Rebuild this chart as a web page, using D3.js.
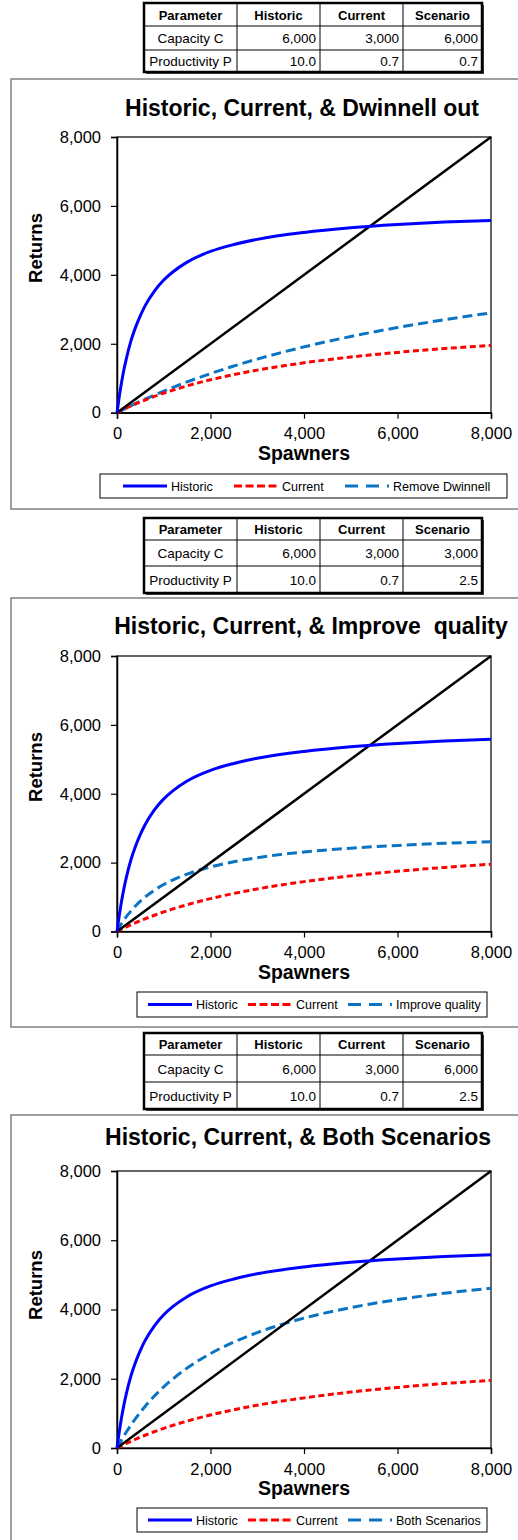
<!DOCTYPE html>
<html><head><meta charset="utf-8">
<script src="https://cdn.jsdelivr.net/npm/d3@7"></script>
<style>
body{margin:0;background:#fff}
svg{display:block}
text{font-family:"Liberation Sans",Arial,sans-serif;fill:#000}
</style>
</head><body>
<svg id="c" width="518" height="1540"></svg>
<script>
// ---------------- data ----------------
const spawners       = [0, 50, 100, 150, 200, 300, 400, 500, 600, 800, 1000, 1200, 1500, 2000, 2500, 3000, 4000, 5000, 6000, 7000, 8000];
const historic       = [0, 480, 900, 1260, 1570, 2090, 2490, 2820, 3100, 3530, 3850, 4090, 4370, 4680, 4880, 5030, 5230, 5365, 5460, 5530, 5580];
const current        = [0, 35, 68, 101, 134, 196, 256, 313, 368, 472, 568, 656, 778, 955, 1105, 1235, 1448, 1615, 1750, 1861, 1953];
const removeDwinnell = [0, 35, 69, 103, 137, 203, 268, 331, 393, 512, 627, 737, 894, 1135, 1355, 1556, 1909, 2211, 2471, 2697, 2897];
const improveQuality = [0, 120, 231, 333, 429, 600, 750, 882, 1000, 1200, 1364, 1500, 1667, 1875, 2027, 2143, 2308, 2419, 2500, 2561, 2609];
const bothScenarios  = [0, 122, 240, 353, 462, 667, 857, 1034, 1200, 1500, 1765, 2000, 2308, 2727, 3061, 3333, 3750, 4054, 4286, 4468, 4615];
const replacementS   = [0, 8000];
const replacementR   = [0, 8000];

const axisTicks = [0, 2000, 4000, 6000, 8000];

const tableHeader = ["Parameter", "Historic", "Current", "Scenario"];
const rowLabels   = ["Capacity C", "Productivity P"];
const capacity1 = [6000, 3000, 6000], productivity1 = [10.0, 0.7, 0.7];
const capacity2 = [6000, 3000, 3000], productivity2 = [10.0, 0.7, 2.5];
const capacity3 = [6000, 3000, 6000], productivity3 = [10.0, 0.7, 2.5];

const titles = ["Historic, Current, & Dwinnell out", "Historic, Current, & Improve  quality", "Historic, Current, & Both Scenarios"];
const scenarioNames = ["Remove Dwinnell", "Improve quality", "Both Scenarios"];
const scenarioSeries = [removeDwinnell, improveQuality, bothScenarios];

// ---------------- drawing ----------------
const svg = d3.select("#c");
const FONT = '"Liberation Sans",Arial,sans-serif';

function drawTable(rows, cap, prod) {
  const colX = [144, 237, 320, 403, 482];
  const g = svg.append("g");
  const top = rows[0], bot = rows[3];
  g.append("rect").attr("x", colX[0] + 2).attr("y", top + 2).attr("width", colX[4] - colX[0]).attr("height", bot - top).attr("fill", "#444");
  g.append("rect").attr("x", colX[0]).attr("y", top).attr("width", colX[4] - colX[0]).attr("height", bot - top)
    .attr("fill", "#fff").attr("stroke", "#000").attr("stroke-width", 2.5);
  for (let i = 1; i < 3; i++) g.append("line").attr("x1", colX[0]).attr("x2", colX[4]).attr("y1", rows[i]).attr("y2", rows[i]).attr("stroke", "#000").attr("stroke-width", 1);
  for (let i = 1; i < 4; i++) g.append("line").attr("x1", colX[i]).attr("x2", colX[i]).attr("y1", top).attr("y2", bot).attr("stroke", "#000").attr("stroke-width", 1);
  const mid = i => (rows[i] + rows[i + 1]) / 2 + 5;
  tableHeader.forEach((h, j) => {
    g.append("text").attr("x", (colX[j] + colX[j + 1]) / 2).attr("y", mid(0)).attr("text-anchor", "middle")
      .attr("font-size", 13).attr("font-weight", "bold").text(h);
  });
  const fmtC = d3.format(","), fmtP = d3.format(".1f");
  rowLabels.forEach((r, i) => {
    g.append("text").attr("x", (colX[0] + colX[1]) / 2).attr("y", mid(i + 1)).attr("text-anchor", "middle").attr("font-size", 13.5).text(r);
    const vals = i === 0 ? cap.map(fmtC) : prod.map(fmtP);
    vals.forEach((v, j) => {
      g.append("text").attr("x", colX[j + 2] - 4).attr("y", mid(i + 1)).attr("text-anchor", "end").attr("font-size", 13.5).text(v);
    });
  });
}

drawTable([3, 26, 50, 72], capacity1, productivity1);
drawTable([518, 540, 566, 593], capacity2, productivity2);
drawTable([1033, 1055, 1082, 1109], capacity3, productivity3);

const layouts = [
  {frameTop: 79, frameBot: 509, titleX: 302, titleY: 116, pTop: 137, pBot: 412.7, retY: 248, xLabY: 439, spawnY: 460,
   leg: {x0: 100, x1: 507, y0: 474, y1: 498, items: [123, 234, 345]}},
  {frameTop: 598, frameBot: 1027, titleX: 311, titleY: 634, pTop: 656, pBot: 931.5, retY: 767, xLabY: 958, spawnY: 979,
   leg: {x0: 137, x1: 487, y0: 992, y1: 1017, items: [148, 248, 348]}},
  {frameTop: 1115, frameBot: 1560, titleX: 298, titleY: 1145, pTop: 1171, pBot: 1448, retY: 1285, xLabY: 1475, spawnY: 1495,
   leg: {x0: 137, x1: 487, y0: 1508, y1: 1532, items: [148, 248, 348]}}
];

const SCEN_COLOR = "#0a74c4";

layouts.forEach((L, k) => {
  const g = svg.append("g");
  g.append("rect").attr("x", 11).attr("y", L.frameTop).attr("width", 530).attr("height", L.frameBot - L.frameTop)
    .attr("fill", "#fff").attr("stroke", "#808080").attr("stroke-width", 1.5);
  g.append("text").attr("x", L.titleX).attr("y", L.titleY).attr("text-anchor", "middle").attr("font-size", 23)
    .attr("font-weight", "bold").style("white-space", "pre").text(titles[k]);

  const x = d3.scaleLinear().domain([0, 8000]).range([117, 491]);
  const y = d3.scaleLinear().domain([0, 8000]).range([L.pBot, L.pTop]);

  g.append("rect").attr("x", 117).attr("y", L.pTop).attr("width", 374).attr("height", L.pBot - L.pTop)
    .attr("fill", "none").attr("stroke", "#000").attr("stroke-width", 1.2);

  const yAxis = g.append("g").attr("transform", "translate(117,0)")
    .call(d3.axisLeft(y).tickValues(axisTicks).tickFormat(d3.format(",")).tickSize(6).tickPadding(10));
  const xAxis = g.append("g").attr("transform", `translate(0,${L.pBot})`)
    .call(d3.axisBottom(x).tickValues(axisTicks).tickFormat(d3.format(",")).tickSize(6).tickPadding(9));
  [yAxis, xAxis].forEach(a => {
    a.select(".domain").attr("stroke", "#000").attr("stroke-width", 1.5);
    a.selectAll(".tick line").attr("stroke", "#000").attr("stroke-width", 1.2);
    a.selectAll(".tick text").attr("font-family", FONT).attr("font-size", 16.5).attr("fill", "#000");
  });

  g.append("text").attr("x", 304).attr("y", L.spawnY).attr("text-anchor", "middle").attr("font-size", 19.5).attr("font-weight", "bold").text("Spawners");
  g.append("text").attr("transform", `translate(42,${L.retY}) rotate(-90)`).attr("text-anchor", "middle").attr("font-size", 18.5).attr("font-weight", "bold").text("Returns");

  const cid = "clip" + k;
  svg.append("clipPath").attr("id", cid).append("rect").attr("x", 115).attr("y", L.pTop - 2).attr("width", 378).attr("height", L.pBot - L.pTop + 4);
  const lineGen = d3.line().x(d => x(d[0])).y(d => y(d[1])).curve(d3.curveMonotoneX);
  const plot = g.append("g").attr("clip-path", `url(#${cid})`);

  const series = [
    {s: replacementS, r: replacementR, color: "#000", w: 2.5, dash: null},
    {s: spawners, r: historic, color: "#0000ff", w: 3, dash: null},
    {s: spawners, r: current, color: "#ff0000", w: 3, dash: "6,3.5"},
    {s: spawners, r: scenarioSeries[k], color: SCEN_COLOR, w: 3, dash: "10,5"}
  ];
  [series[3], series[2], series[0], series[1]].forEach(se => {
    plot.append("path").datum(se.s.map((v, i) => [v, se.r[i]]))
      .attr("d", lineGen).attr("fill", "none").attr("stroke", se.color).attr("stroke-width", se.w)
      .attr("stroke-dasharray", se.dash).attr("stroke-linejoin", "round");
  });

  const lg = L.leg;
  g.append("rect").attr("x", lg.x0).attr("y", lg.y0).attr("width", lg.x1 - lg.x0).attr("height", lg.y1 - lg.y0)
    .attr("fill", "#fff").attr("stroke", "#000").attr("stroke-width", 1);
  const ly = (lg.y0 + lg.y1) / 2;
  const legItems = [
    {name: "Historic", color: "#0000ff", dash: null},
    {name: "Current", color: "#ff0000", dash: "8,3.5"},
    {name: scenarioNames[k], color: SCEN_COLOR, dash: "13,8"}
  ];
  legItems.forEach((it, i) => {
    const lx = lg.items[i];
    g.append("line").attr("x1", lx).attr("x2", lx + 44).attr("y1", ly).attr("y2", ly)
      .attr("stroke", it.color).attr("stroke-width", 3).attr("stroke-dasharray", it.dash);
    g.append("text").attr("x", lx + 48).attr("y", ly + 4.5).attr("font-size", 12.5).text(it.name);
  });
});
</script>
</body></html>
